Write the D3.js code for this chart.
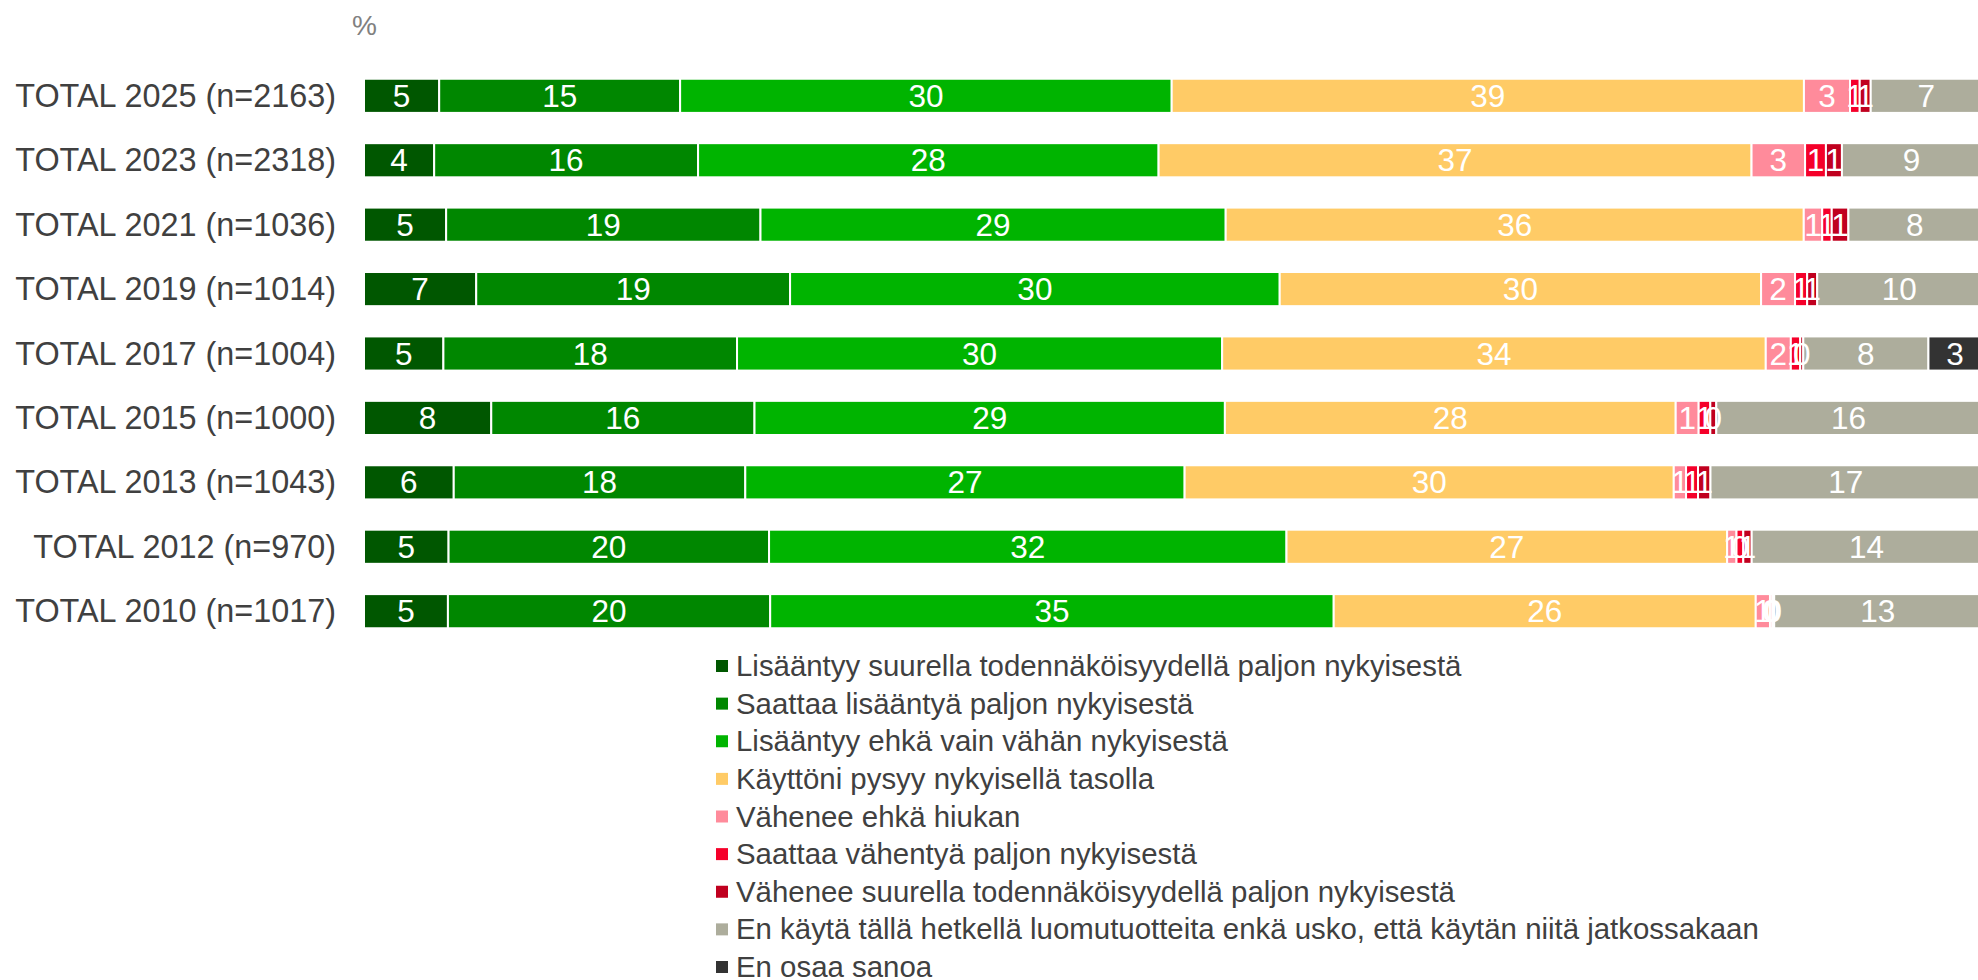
<html>
<head>
<meta charset="utf-8">
<script src="https://d3js.org/d3.v7.min.js"></script>
<style>
body { margin: 0; background: #fff; }
text { font-family: "Liberation Sans", Arial, sans-serif; }
</style>
</head>
<body>
<svg width="1978" height="980"></svg>
<script>
// rows, top to bottom
var categories = ["TOTAL 2025 (n=2163)", "TOTAL 2023 (n=2318)", "TOTAL 2021 (n=1036)",
  "TOTAL 2019 (n=1014)", "TOTAL 2017 (n=1004)", "TOTAL 2015 (n=1000)",
  "TOTAL 2013 (n=1043)", "TOTAL 2012 (n=970)", "TOTAL 2010 (n=1017)"];

var seriesNames = ["Lisääntyy suurella todennäköisyydellä paljon nykyisestä",
  "Saattaa lisääntyä paljon nykyisestä",
  "Lisääntyy ehkä vain vähän nykyisestä",
  "Käyttöni pysyy nykyisellä tasolla",
  "Vähenee ehkä hiukan",
  "Saattaa vähentyä paljon nykyisestä",
  "Vähenee suurella todennäköisyydellä paljon nykyisestä",
  "En käytä tällä hetkellä luomutuotteita enkä usko, että käytän niitä jatkossakaan",
  "En osaa sanoa"];

// % per series, same order as categories
var likelyMuchMore = [4.65, 4.34, 5.08, 6.94, 4.91, 7.87, 5.55, 5.23, 5.19];
var mayMuchMore    = [14.9, 16.32, 19.44, 19.41, 18.16, 16.28, 18.03, 19.82, 19.93];
var slightlyMore   = [30.4, 28.48, 28.77, 30.28, 30.0, 29.09, 27.17, 32.0, 34.85];
var sameLevel      = [39.1, 36.67, 35.75, 29.77, 33.62, 27.88, 30.25, 27.25, 26.1];
var slightlyLess   = [2.85, 3.31, 1.14, 2.1, 1.55, 1.42, 0.76, 0.58, 0.88];
var mayMuchLess    = [0.6, 1.29, 0.59, 0.75, 0.58, 0.72, 0.74, 0.42, 0.14];
var likelyMuchLess = [0.68, 0.99, 1.03, 0.62, 0.19, 0.37, 0.77, 0.52, 0.12];
var notUsing       = [6.87, 8.6, 8.2, 10.15, 7.74, 16.36, 16.73, 14.19, 12.81];
var dontKnow       = [0, 0, 0, 0, 3.28, 0, 0, 0, 0];

var seriesValues = [likelyMuchMore, mayMuchMore, slightlyMore, sameLevel, slightlyLess,
  mayMuchLess, likelyMuchLess, notUsing, dontKnow];

var colors = ["#005700", "#008700", "#00b400", "#ffcb66", "#ff8b9b",
  "#f5002a", "#c0001f", "#adad9c", "#333333"];

var svg = d3.select("svg");

var rows = categories.map(function(c, i) {
  var r = {cat: c};
  seriesValues.forEach(function(s, k) { r[k] = s[i]; });
  return r;
});
var keys = d3.range(seriesNames.length);
var stacked = d3.stack().keys(keys)(rows);

var x = d3.scaleLinear().domain([0, 100]).range([364, 1981]);
var y = d3.scaleBand().domain(categories).range([62, 645]).paddingInner(0.47).paddingOuter(0.26);

var g = svg.append("g");

var layers = g.selectAll("g.layer")
  .data(stacked)
  .enter().append("g")
  .attr("class", "layer")
  .attr("fill", function(d) { return colors[d.key]; });

layers.selectAll("rect")
  .data(function(d) { return d; })
  .enter().append("rect")
  .filter(function(d) { return d[1] - d[0] > 0; })
  .attr("x", function(d) { return x(d[0]); })
  .attr("y", function(d) { return y(d.data.cat); })
  .attr("width", function(d) { return x(d[1]) - x(d[0]); })
  .attr("height", y.bandwidth())
  .attr("stroke", "#fff")
  .attr("stroke-width", 2);

// value labels on top of all segments
stacked.forEach(function(layer) {
  g.append("g").selectAll("text")
    .data(layer.filter(function(d) { return d[1] - d[0] > 0; }))
    .enter().append("text")
    .attr("x", function(d) { return (x(d[0]) + x(d[1])) / 2; })
    .attr("y", function(d) { return y(d.data.cat) + y.bandwidth() / 2 + 11; })
    .attr("text-anchor", "middle")
    .attr("fill", "#fff")
    .style("font-size", "31.5px")
    .text(function(d) { return Math.round(d[1] - d[0]); });
});

// category labels
svg.append("g").selectAll("text")
  .data(categories)
  .enter().append("text")
  .attr("x", 336)
  .attr("y", function(d) { return y(d) + y.bandwidth() / 2 + 11; })
  .attr("text-anchor", "end")
  .attr("fill", "#404040")
  .style("font-size", "32.4px")
  .text(function(d) { return d; });

svg.append("text")
  .attr("x", 352)
  .attr("y", 35)
  .attr("fill", "#808080")
  .style("font-size", "28px")
  .text("%");

// legend
var ly = d3.scalePoint().domain(keys).range([666, 967]);
var legend = svg.append("g").selectAll("g")
  .data(keys)
  .enter().append("g")
  .attr("transform", function(k) { return "translate(716," + ly(k) + ")"; });

legend.append("rect")
  .attr("x", 0).attr("y", -6)
  .attr("width", 12).attr("height", 12)
  .attr("fill", function(k) { return colors[k]; });

legend.append("text")
  .attr("x", 20)
  .attr("y", 10)
  .attr("fill", "#404040")
  .style("font-size", "29.4px")
  .text(function(k) { return seriesNames[k]; });
</script>
</body>
</html>
